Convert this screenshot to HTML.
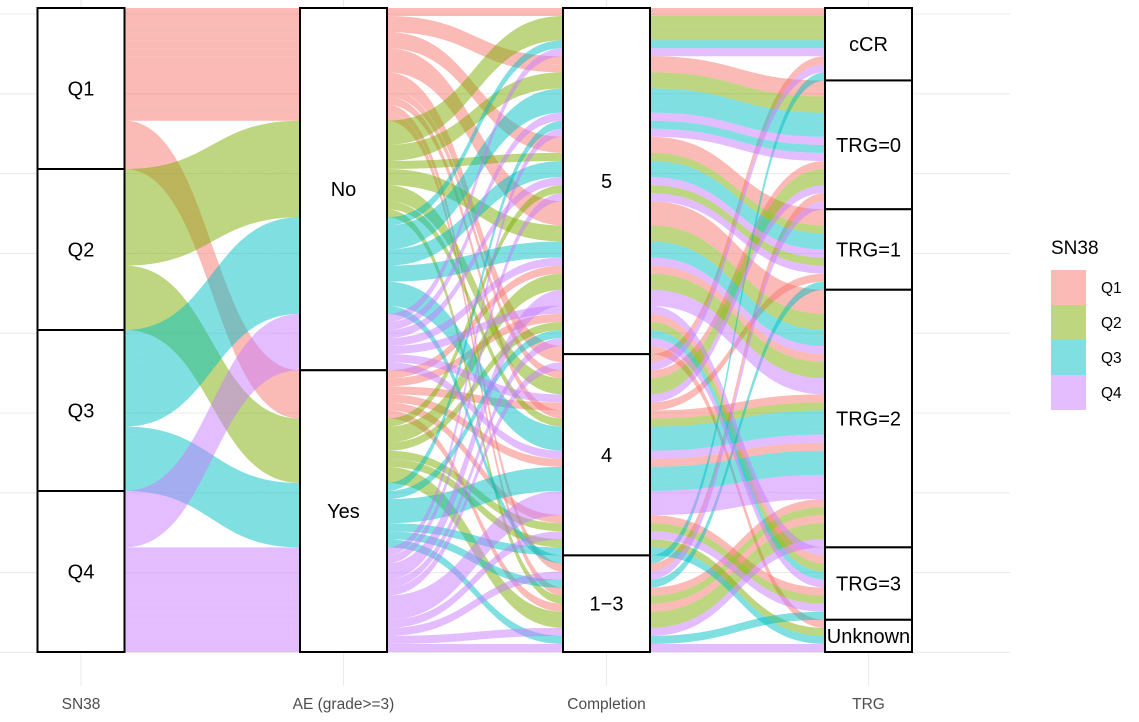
<!DOCTYPE html>
<html><head><meta charset="utf-8">
<style>
html,body{margin:0;padding:0;background:#fff;}
svg{display:block;font-family:"Liberation Sans",Arial,sans-serif;}
</style></head>
<body>
<svg id="chart" width="1139" height="722" viewBox="0 0 1139 722">
<g id="grid"></g>
<g id="flows"></g>
<g id="strata"></g>
<g id="axislabels"></g>
<g id="legend"></g>
</svg>
<script>
// ---- data ----
const axisNames = ["SN38", "AE (grade>=3)", "Completion", "TRG"];
const groups = ["Q1", "Q2", "Q3", "Q4"];
const groupColors = ["#F8766D", "#7CAE00", "#00BFC4", "#C77CFF"];
const aeLevels = ["No", "Yes"];
const compLevels = ["5", "4", "1\u22123"];
const trgLevels = ["cCR", "TRG=0", "TRG=1", "TRG=2", "TRG=3", "Unknown"];
// per subject codes (20 subjects per SN38 group)
const aeCodes = [
  "NNNNNNNNNNNNNNYYYYYY",
  "NNNNNNNNNNNNYYYYYYYY",
  "NNNNNNNNNNNNYYYYYYYY",
  "NNNNNNNYYYYYYYYYYYYY"
];
const compCodes = [
  "55555554445LL5554L44",
  "5555555L44455554L4L5",
  "5555544L5554454L44L5",
  "5544555L4455L4L45554"
];
const trgCodes = [
  "c0201220c2120u232213",
  "cc0c20122002212u2323",
  "0c20122c0212u0232213",
  "2c0203122c0202u32312"
];

// ---- layout ----
const yTop = 8, yBot = 652;
const axisX = [81, 343.5, 606.5, 868.5];
const boxW = 87;
const NS = "http://www.w3.org/2000/svg";
function mk(tag, attrs, parent){const e=document.createElementNS(NS,tag);for(const k in attrs)e.setAttribute(k,attrs[k]);parent.appendChild(e);return e;}

// build subjects
const subjects = [];
const aeMap = {N:0, Y:1};
const compMap = {"5":0, "4":1, "L":2};
const trgMap = {c:0, "0":1, "1":2, "2":3, "3":4, u:5};
groups.forEach((g, gi) => {
  for (let i = 0; i < aeCodes[gi].length; i++) {
    subjects.push({id: subjects.length, s: [gi, aeMap[aeCodes[gi][i]], compMap[compCodes[gi][i]], trgMap[trgCodes[gi][i]]]});
  }
});
const N = subjects.length;
const unit = (yBot - yTop) / N;
const levelsPerAxis = [groups, aeLevels, compLevels, trgLevels];
const orderKeys = [[0,1,2,3],[1,0,2,3],[2,3,1,0],[3,2,1,0]];

// positions per axis
const pos = subjects.map(() => [0,0,0,0]);
const strataBounds = [];
for (let a = 0; a < 4; a++) {
  const keys = orderKeys[a];
  const sorted = subjects.slice().sort((p, q) => {
    for (const k of keys) if (p.s[k] !== q.s[k]) return p.s[k] - q.s[k];
    return p.id - q.id;
  });
  sorted.forEach((sub, i) => { pos[sub.id][a] = yTop + i * unit; });
  const bounds = levelsPerAxis[a].map(() => [Infinity, -Infinity]);
  sorted.forEach((sub, i) => {
    const b = bounds[sub.s[a]];
    b[0] = Math.min(b[0], yTop + i*unit); b[1] = Math.max(b[1], yTop + (i+1)*unit);
  });
  strataBounds.push(bounds);
}

// grid
const grid = document.getElementById("grid");
for (let i = 0; i <= 8; i++) {
  const y = 14 + i * 79.8;
  const l = mk("line", {x1:0, x2:1010, y1:y, y2:y, stroke:"#ebebeb", "stroke-width":1.1}, grid);
  
  
}
axisX.forEach(x => {
  const l = mk("line", {x1:x, x2:x, y1:0, y2:686, stroke:"#ebebeb", "stroke-width":1.1}, grid);
  
  
});

// flows
const flows = document.getElementById("flows");
subjects.forEach(sub => {
  for (let a = 0; a < 3; a++) {
    const x0 = axisX[a] + boxW/2, x1 = axisX[a+1] - boxW/2, xm = (x0 + x1) / 2;
    const y0 = pos[sub.id][a], y1 = pos[sub.id][a+1];
    const d = `M${x0},${y0} C${xm},${y0} ${xm},${y1} ${x1},${y1} L${x1},${y1+unit} C${xm},${y1+unit} ${xm},${y0+unit} ${x0},${y0+unit} Z`;
    const p = mk("path", {d, fill: groupColors[sub.s[0]], "fill-opacity": 0.5}, flows);
    
    
  }
});

// strata boxes
const strata = document.getElementById("strata");
strataBounds.forEach((bounds, a) => {
  bounds.forEach((b, li) => {
    if (b[0] === Infinity) return;
    const r = mk("rect", {x: axisX[a] - boxW/2, y: b[0], width: boxW, height: b[1]-b[0], fill:"#fff", stroke:"#000", "stroke-width":2}, strata);
    
    
    const t = mk("text", {x: axisX[a], y: (b[0]+b[1])/2 + 7, "text-anchor":"middle", "font-size":20, fill:"#000"}, strata);
    t.textContent = levelsPerAxis[a][li];
    
    
  });
});

// axis labels
const al = document.getElementById("axislabels");
axisNames.forEach((n, a) => {
  const t = mk("text", {x: axisX[a], y: 709, "text-anchor":"middle", "font-size":15.5, fill:"#4d4d4d"}, al);
  t.textContent = n;
  
  
});

// legend
const lg = document.getElementById("legend");
const lt = mk("text", {x:1051, y:254, "font-size":19, fill:"#000"}, lg);
lt.textContent = "SN38";


groups.forEach((g, i) => {
  const y = 270 + i * 35;
  const r = mk("rect", {x:1051, y:y, width:35, height:35, fill:groupColors[i], "fill-opacity":0.5}, lg);
  
  
  const t = mk("text", {x:1101, y:y + 23, "font-size":15.5, fill:"#000"}, lg);
  t.textContent = g;
  
  
});
</script>
</body></html>
